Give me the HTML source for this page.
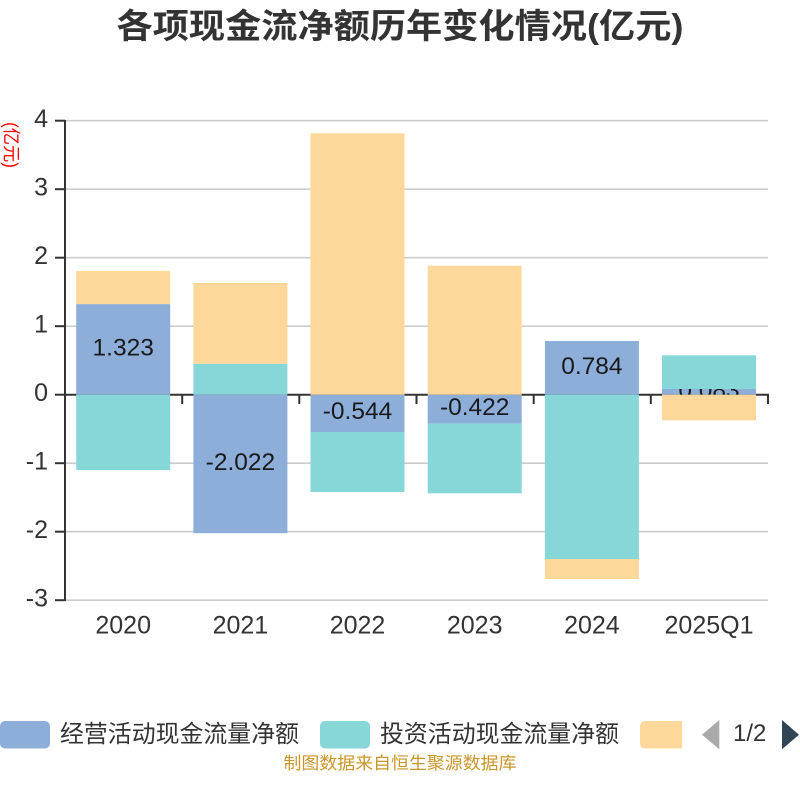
<!DOCTYPE html>
<html>
<head>
<meta charset="utf-8">
<style>
  html, body { margin: 0; padding: 0; background: #fff; }
  svg { display: block; }
  text { font-family: "Liberation Sans", "Noto Sans CJK SC", sans-serif; }
</style>
</head>
<body>
<svg width="800" height="800" viewBox="0 0 800 800" xmlns="http://www.w3.org/2000/svg">
  <rect x="0" y="0" width="800" height="800" fill="#ffffff"/>

  <!-- Title -->
  <text x="400" y="38" text-anchor="middle" font-size="34" font-weight="bold" fill="#333333" textLength="567" lengthAdjust="spacingAndGlyphs">各项现金流净额历年变化情况(亿元)</text>

  <!-- Y axis name -->
  <text x="0" y="0" transform="translate(5,145) rotate(90)" text-anchor="middle" font-size="18" fill="#ff0000" textLength="46" lengthAdjust="spacingAndGlyphs">(亿元)</text>

  <!-- Gridlines -->
  <g stroke="#cccccc" stroke-width="1.6">
    <line x1="65" y1="120.7" x2="768" y2="120.7"/>
    <line x1="65" y1="189.2" x2="768" y2="189.2"/>
    <line x1="65" y1="257.7" x2="768" y2="257.7"/>
    <line x1="65" y1="326.2" x2="768" y2="326.2"/>
    <line x1="65" y1="463.2" x2="768" y2="463.2"/>
    <line x1="65" y1="531.7" x2="768" y2="531.7"/>
    <line x1="65" y1="600.2" x2="768" y2="600.2"/>
  </g>

  <!-- Y axis -->
  <g stroke="#333333" stroke-width="2">
    <line x1="65" y1="120" x2="65" y2="601"/>
    <line x1="55" y1="120.7" x2="65" y2="120.7"/>
    <line x1="55" y1="189.2" x2="65" y2="189.2"/>
    <line x1="55" y1="257.7" x2="65" y2="257.7"/>
    <line x1="55" y1="326.2" x2="65" y2="326.2"/>
    <line x1="55" y1="394.7" x2="65" y2="394.7"/>
    <line x1="55" y1="463.2" x2="65" y2="463.2"/>
    <line x1="55" y1="531.7" x2="65" y2="531.7"/>
    <line x1="55" y1="600.2" x2="65" y2="600.2"/>
  </g>
  <g font-size="25" fill="#333333" text-anchor="end">
    <text x="48" y="127">4</text>
    <text x="48" y="195.5">3</text>
    <text x="48" y="264">2</text>
    <text x="48" y="332.5">1</text>
    <text x="48" y="401">0</text>
    <text x="48" y="469.5">-1</text>
    <text x="48" y="538">-2</text>
    <text x="48" y="606.5">-3</text>
  </g>

  <!-- X axis at zero -->
  <g stroke="#333333" stroke-width="2">
    <line x1="65" y1="394.7" x2="769" y2="394.7"/>
    <line x1="182.2" y1="394.7" x2="182.2" y2="404"/>
    <line x1="299.3" y1="394.7" x2="299.3" y2="404"/>
    <line x1="416.5" y1="394.7" x2="416.5" y2="404"/>
    <line x1="533.7" y1="394.7" x2="533.7" y2="404"/>
    <line x1="650.8" y1="394.7" x2="650.8" y2="404"/>
    <line x1="768" y1="394.7" x2="768" y2="404"/>
  </g>

  <!-- X labels -->
  <g font-size="25" fill="#333333" text-anchor="middle">
    <text x="123.2" y="633.5">2020</text>
    <text x="240.4" y="633.5">2021</text>
    <text x="357.5" y="633.5">2022</text>
    <text x="474.7" y="633.5">2023</text>
    <text x="591.9" y="633.5">2024</text>
    <text x="709" y="633.5">2025Q1</text>
  </g>

  <!-- Operating (blue) -->
  <g fill="#8EAEDA">
    <rect x="76.2" y="304.1" width="94" height="90.6"/>
    <rect x="193.4" y="394.7" width="94" height="138.5"/>
    <rect x="310.5" y="394.7" width="94" height="37.3"/>
    <rect x="427.7" y="394.7" width="94" height="28.9"/>
    <rect x="544.9" y="341" width="94" height="53.7"/>
    <rect x="662" y="389" width="94" height="5.7"/>
  </g>
  <!-- Operating labels -->
  <g font-size="24.5" fill="#1a1a1a" text-anchor="middle">
    <text x="123.2" y="355.6">1.323</text>
    <text x="240.4" y="470.2">-2.022</text>
    <text x="357.5" y="419">-0.544</text>
    <text x="474.7" y="415">-0.422</text>
    <text x="591.9" y="374">0.784</text>
    <text x="709" y="398">0.083</text>
  </g>

  <!-- Investing (teal) -->
  <g fill="#87D6D8">
    <rect x="76.2" y="394.7" width="94" height="75.3"/>
    <rect x="193.4" y="363.7" width="94" height="31"/>
    <rect x="310.5" y="432" width="94" height="60"/>
    <rect x="427.7" y="423.6" width="94" height="69.7"/>
    <rect x="544.9" y="394.7" width="94" height="164.3"/>
    <rect x="662" y="355.3" width="94" height="33.7"/>
  </g>

  <!-- Financing (orange) -->
  <g fill="#FED89A">
    <rect x="76.2" y="271" width="94" height="33.1"/>
    <rect x="193.4" y="283" width="94" height="80.7"/>
    <rect x="310.5" y="133.3" width="94" height="261.4"/>
    <rect x="427.7" y="265.7" width="94" height="129"/>
    <rect x="544.9" y="559" width="94" height="20"/>
    <rect x="662" y="394.7" width="94" height="25.6"/>
  </g>

  <!-- Legend -->
  <rect x="0" y="721" width="50" height="27.5" rx="5" ry="5" fill="#8EAEDA"/>
  <text x="60" y="742" font-size="24" fill="#333333" textLength="239" lengthAdjust="spacingAndGlyphs">经营活动现金流量净额</text>
  <rect x="320" y="721" width="50" height="27.5" rx="5" ry="5" fill="#87D6D8"/>
  <text x="380" y="742" font-size="24" fill="#333333" textLength="239" lengthAdjust="spacingAndGlyphs">投资活动现金流量净额</text>
  <rect x="640" y="721" width="50" height="27.5" rx="5" ry="5" fill="#FED89A"/>
  <rect x="682" y="715" width="18" height="40" fill="#ffffff"/>
  <polygon points="702,734.7 719.3,720 719.3,749.3" fill="#aaaaaa"/>
  <text x="733" y="741" font-size="24" fill="#333333">1/2</text>
  <polygon points="782,720 799,734.7 782,749.3" fill="#2f4554"/>

  <!-- Footer -->
  <text x="400" y="769" text-anchor="middle" font-size="17" fill="#c9962a" textLength="233" lengthAdjust="spacingAndGlyphs">制图数据来自恒生聚源数据库</text>
</svg>
</body>
</html>
